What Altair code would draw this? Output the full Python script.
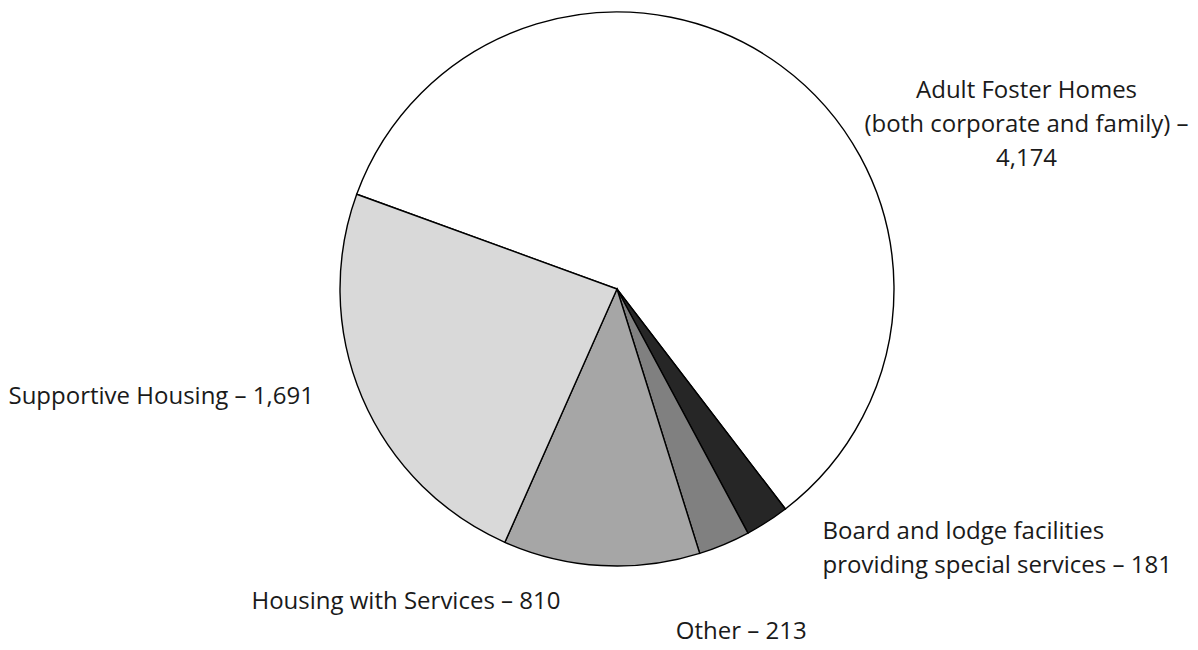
import math
import altair as alt
import pandas as pd

# ---- data ----
categories = [
    "Adult Foster Homes",
    "Board and lodge facilities providing special services",
    "Other",
    "Housing with Services",
    "Supportive Housing",
]
values = [4174, 181, 213, 810, 1691]
labels = [
    "Adult Foster Homes\n(both corporate and family) –\n4,174",
    "Board and lodge facilities\nproviding special services – 181",
    "Other – 213",
    "Housing with Services – 810",
    "Supportive Housing – 1,691",
]
colors = ["#ffffff", "#262626", "#808080", "#a6a6a6", "#d9d9d9"]

df = pd.DataFrame({
    "idx": list(range(len(categories))),
    "category": categories,
    "value": values,
    "label": labels,
})

total = sum(values)
start = math.radians(-70.0)
theta_scale = alt.Scale(domain=[0, total], range=[start, start + 2 * math.pi])

CX, CY, R = 617, 289, 277
FONT = "Open Sans"
FS = 24

pie = alt.Chart(df).mark_arc(
    radius=R, stroke="#000000", strokeWidth=1.4
).encode(
    theta=alt.Theta("value:Q", stack=True, scale=theta_scale),
    order=alt.Order("idx:Q"),
    color=alt.Color("category:N", scale=alt.Scale(domain=categories, range=colors), legend=None),
    x=alt.value(CX),
    y=alt.value(CY),
)

# label layout: (align, dx, dy) relative to a point just outside the slice mid-angle
layout = {
    "Adult Foster Homes": ("center", 232, 44),
    "Board and lodge facilities providing special services": ("left", 43, -9),
    "Other": ("center", 8, 66),
    "Housing with Services": ("center", -194, 13),
    "Supportive Housing": ("right", -27, -10),
}

layers = [pie]
for cat in categories:
    align, dx, dy = layout[cat]
    t = alt.Chart(df).transform_window(
        cum="sum(value)", sort=[alt.SortField("idx")], frame=[None, 0]
    ).transform_calculate(
        mid="datum.cum - datum.value / 2"
    ).transform_filter(
        alt.datum.category == cat
    ).mark_text(
        radius=300, dx=dx, dy=dy, align=align, baseline="middle",
        lineBreak="\n", lineHeight=34, font=FONT, fontSize=FS, color="#1a1a1a",
    ).encode(
        theta=alt.Theta("mid:Q", scale=theta_scale),
        text="label:N",
        x=alt.value(CX),
        y=alt.value(CY),
    )
    layers.append(t)

chart = alt.layer(*layers).properties(
    width=1198, height=650,
    autosize=alt.AutoSizeParams(type="none"),
    padding=0,
    background="white",
).configure_view(stroke=None)

chart.save("out.html", embed_options={"renderer": "svg", "actions": False})
